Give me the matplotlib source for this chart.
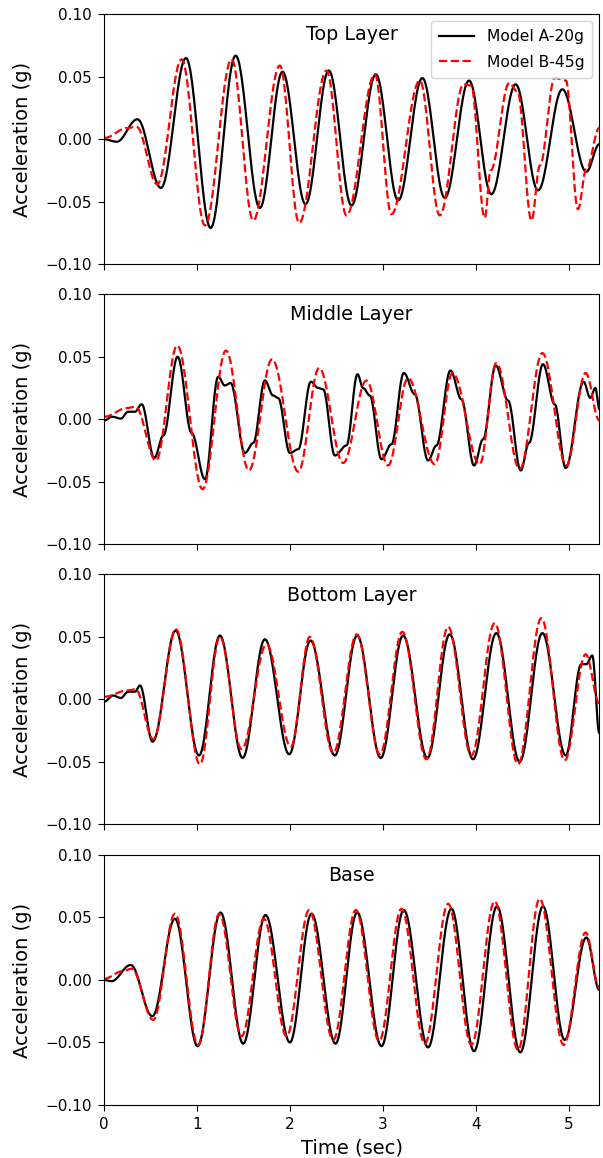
import numpy as np
import matplotlib
matplotlib.use("Agg")
import matplotlib.pyplot as plt

# ---- Data (key points: time [s], acceleration [g]) ----
top_a_t = [0.0, 0.136, 0.36, 0.613, 0.882, 1.147, 1.416, 1.677, 1.921, 2.168, 2.419, 2.663, 2.925, 3.165, 3.426, 3.667, 3.928, 4.168, 4.43, 4.67, 4.932, 5.19, 5.33]
top_a_v = [0.0, -0.002, 0.016, -0.039, 0.065, -0.071, 0.067, -0.055, 0.054, -0.052, 0.055, -0.053, 0.052, -0.049, 0.049, -0.047, 0.047, -0.044, 0.044, -0.041, 0.040, -0.026, -0.004]
top_b_t = [0.0, 0.25, 0.35, 0.573, 0.835, 1.086, 1.373, 1.606, 1.892, 2.1, 2.394, 2.609, 2.915, 3.093, 3.398, 3.613, 3.87, 3.95, 4.097, 4.16, 4.36, 4.45, 4.6, 4.69, 4.85, 4.97, 5.1, 5.19, 5.33]
top_b_v = [0.001, 0.009, 0.010, -0.036, 0.064, -0.069, 0.064, -0.065, 0.059, -0.067, 0.055, -0.061, 0.052, -0.060, 0.047, -0.061, 0.044, 0.043, -0.063, -0.025, 0.045, 0.038, -0.065, -0.021, 0.049, 0.047, -0.056, -0.024, 0.009]

mid_a_t = [0.0, 0.09, 0.18, 0.26, 0.333, 0.405, 0.541, 0.638, 0.792, 0.943, 1.086, 1.229, 1.30, 1.362, 1.516, 1.606, 1.731, 1.82, 1.874, 2.0, 2.09, 2.226, 2.305, 2.358, 2.484, 2.609, 2.728, 2.788, 2.86, 2.986, 3.093, 3.226, 3.344, 3.487, 3.577, 3.728, 3.846, 3.982, 4.079, 4.215, 4.348, 4.484, 4.573, 4.724, 4.85, 4.968, 5.161, 5.233, 5.287, 5.33]
mid_a_v = [-0.001, 0.002, 0.0005, 0.006, 0.006, 0.012, -0.031, -0.013, 0.050, -0.011, -0.048, 0.034, 0.027, 0.029, -0.027, -0.019, 0.031, 0.019, 0.017, -0.027, -0.024, 0.030, 0.025, 0.024, -0.029, -0.021, 0.036, 0.025, 0.019, -0.032, -0.020, 0.037, 0.020, -0.033, -0.021, 0.039, 0.016, -0.037, -0.016, 0.043, 0.015, -0.041, -0.019, 0.044, 0.012, -0.039, 0.030, 0.017, 0.025, 0.008]
mid_b_t = [0.0, 0.25, 0.34, 0.559, 0.788, 1.061, 1.312, 1.559, 1.808, 2.09, 2.315, 2.573, 2.824, 3.057, 3.272, 3.559, 3.75, 4.043, 4.222, 4.473, 4.717, 4.975, 5.183, 5.33]
mid_b_v = [0.002, 0.009, 0.010, -0.033, 0.059, -0.056, 0.055, -0.041, 0.048, -0.042, 0.041, -0.035, 0.031, -0.037, 0.033, -0.036, 0.037, -0.036, 0.045, -0.040, 0.053, -0.037, 0.037, -0.001]

bot_a_t = [0.0, 0.1, 0.18, 0.26, 0.333, 0.387, 0.523, 0.771, 1.022, 1.247, 1.491, 1.731, 1.993, 2.222, 2.484, 2.724, 2.978, 3.219, 3.48, 3.72, 3.971, 4.222, 4.473, 4.717, 4.968, 5.136, 5.19, 5.254, 5.33]
bot_a_v = [-0.002, 0.003, 0.001, 0.006, 0.006, 0.011, -0.034, 0.055, -0.045, 0.051, -0.047, 0.048, -0.044, 0.047, -0.045, 0.051, -0.047, 0.051, -0.047, 0.052, -0.048, 0.053, -0.050, 0.053, -0.045, 0.028, 0.028, 0.035, -0.027]
bot_b_t = [0.0, 0.25, 0.34, 0.53, 0.774, 1.032, 1.247, 1.48, 1.749, 2.01, 2.215, 2.466, 2.72, 2.968, 3.21, 3.47, 3.703, 3.953, 4.204, 4.455, 4.706, 4.957, 5.183, 5.33]
bot_b_v = [0.002, 0.007, 0.008, -0.032, 0.056, -0.052, 0.050, -0.040, 0.044, -0.038, 0.050, -0.043, 0.052, -0.044, 0.054, -0.048, 0.058, -0.045, 0.061, -0.052, 0.065, -0.049, 0.036, -0.003]

base_a_t = [0.0, 0.08, 0.287, 0.52, 0.763, 1.007, 1.254, 1.498, 1.738, 2.0, 2.233, 2.491, 2.724, 2.986, 3.226, 3.487, 3.738, 3.982, 4.229, 4.48, 4.724, 4.957, 5.19, 5.33]
base_a_v = [0.0, -0.001, 0.012, -0.029, 0.049, -0.053, 0.054, -0.051, 0.052, -0.050, 0.053, -0.051, 0.054, -0.053, 0.056, -0.054, 0.057, -0.057, 0.059, -0.058, 0.059, -0.048, 0.034, -0.008]
base_b_t = [0.0, 0.2, 0.297, 0.53, 0.763, 1.014, 1.24, 1.48, 1.72, 1.964, 2.208, 2.466, 2.71, 2.96, 3.201, 3.452, 3.703, 3.953, 4.204, 4.455, 4.688, 4.946, 5.183, 5.33]
base_b_v = [0.001, 0.007, 0.009, -0.032, 0.053, -0.052, 0.053, -0.045, 0.049, -0.045, 0.056, -0.048, 0.056, -0.049, 0.057, -0.051, 0.061, -0.052, 0.063, -0.056, 0.065, -0.052, 0.038, -0.006]

panel_titles = ["Top Layer", "Middle Layer", "Bottom Layer", "Base"]
series_a = [(top_a_t, top_a_v), (mid_a_t, mid_a_v), (bot_a_t, bot_a_v), (base_a_t, base_a_v)]
series_b = [(top_b_t, top_b_v), (mid_b_t, mid_b_v), (bot_b_t, bot_b_v), (base_b_t, base_b_v)]
legend_labels = ["Model A-20g", "Model B-45g"]
x_ticks = [0, 1, 2, 3, 4, 5]
y_ticks = [-0.10, -0.05, 0.00, 0.05, 0.10]


def smooth_path(t, v, n=24):
    """Draw a smooth (half-cosine) path through the read key points."""
    t = np.asarray(t, float)
    v = np.asarray(v, float)
    xs, ys = [t[0]], [v[0]]
    s = np.linspace(0, 1, n + 1)[1:]
    w = (1 - np.cos(np.pi * s)) / 2
    for i in range(len(t) - 1):
        xs.extend(t[i] + (t[i + 1] - t[i]) * s)
        ys.extend(v[i] + (v[i + 1] - v[i]) * w)
    return np.array(xs), np.array(ys)


fig = plt.figure(figsize=(6.03, 11.58), dpi=100)
left, width, height = 0.1725, 0.8214, 0.2159
bottoms = [0.7718, 0.5300, 0.2882, 0.0458]

axes = []
for k in range(4):
    ax = fig.add_axes([left, bottoms[k], width, height])
    axes.append(ax)
    ta, va = smooth_path(*series_a[k])
    tb, vb = smooth_path(*series_b[k])
    ax.plot(ta, va, color="black", lw=1.6, label=legend_labels[0])
    ax.plot(tb, vb, color="red", lw=1.6, ls="--", label=legend_labels[1])
    ax.set_xlim(0, 5.33)
    ax.set_ylim(-0.10, 0.10)
    ax.set_xticks(x_ticks)
    ax.set_yticks(y_ticks)
    ax.set_yticklabels([f"{y:.2f}".replace("-", "\u2212") for y in y_ticks])
    ax.tick_params(labelsize=11, length=4, pad=5)
    if k < 3:
        ax.set_xticklabels([])
    ax.set_ylabel("Acceleration (g)", fontsize=14)
    ax.yaxis.set_label_coords(-0.145, 0.5)
    ax.text(0.5, 0.955, panel_titles[k], transform=ax.transAxes,
            ha="center", va="top", fontsize=13.8)

axes[0].legend(loc="upper right", fontsize=11.2, handlelength=2.3,
               borderaxespad=0.45, borderpad=0.5, labelspacing=0.7)
axes[-1].set_xlabel("Time (sec)", fontsize=14)

fig.savefig("out.png", dpi=100)
